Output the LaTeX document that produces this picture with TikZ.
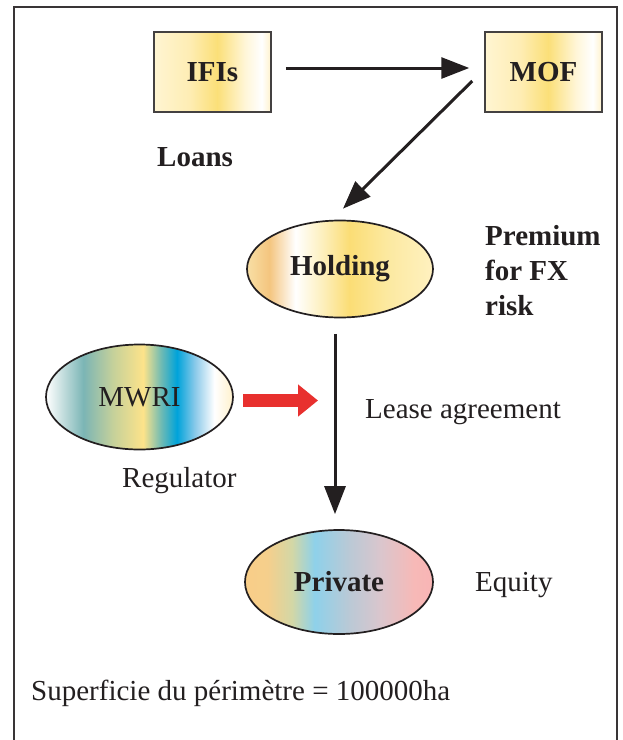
\documentclass[tikz,border=0pt]{standalone}
\usepackage{fontspec}
\setmainfont{Liberation Serif}
\usetikzlibrary{arrows.meta,shapes.geometric}

\definecolor{ink}{HTML}{231F20}
\definecolor{redarr}{HTML}{E8302E}

% gold boxes
\definecolor{bxA}{HTML}{FFF5D2}
\definecolor{bxB}{HTML}{FEEDB4}
\definecolor{bxC}{HTML}{FBDF78}
\definecolor{bxD}{HTML}{FFF6D8}
\definecolor{bxE}{HTML}{FFFFFF}
\definecolor{bxF}{HTML}{FFF2CC}
\pgfdeclarehorizontalshading{boxgold}{100bp}{color(0bp)=(bxA); color(25bp)=(bxA); color(40bp)=(bxB); color(52bp)=(bxC); color(64bp)=(bxD); color(71bp)=(bxE); color(75bp)=(bxF); color(100bp)=(bxF)}

% holding ellipse
\definecolor{hoA}{HTML}{F8DFA5}
\definecolor{hoB}{HTML}{F4C57F}
\definecolor{hoC}{HTML}{FFFFFF}
\definecolor{hoD}{HTML}{FDF0C0}
\definecolor{hoE}{HTML}{FBDD75}
\definecolor{hoF}{HTML}{FCE9A0}
\definecolor{hoG}{HTML}{FFF1C0}
\pgfdeclarehorizontalshading{holdshade}{100bp}{color(0bp)=(hoA); color(25bp)=(hoA); color(31bp)=(hoB); color(38bp)=(hoC); color(45bp)=(hoD); color(52.5bp)=(hoE); color(62.5bp)=(hoF); color(75bp)=(hoG); color(100bp)=(hoG)}

% regulator ellipse
\definecolor{mwA}{HTML}{FFFFFF}
\definecolor{mwB}{HTML}{7BB5B5}
\definecolor{mwC}{HTML}{C6D19A}
\definecolor{mwD}{HTML}{FDE38A}
\definecolor{mwE}{HTML}{69B9B5}
\definecolor{mwF}{HTML}{00A3DA}
\definecolor{mwG}{HTML}{8FCBEA}
\definecolor{mwH}{HTML}{FFFFFF}
\definecolor{mwI}{HTML}{FFF1CC}
\pgfdeclarehorizontalshading{mwrishade}{100bp}{color(0bp)=(mwA); color(25bp)=(mwA); color(35bp)=(mwB); color(43bp)=(mwC); color(51bp)=(mwD); color(56bp)=(mwE); color(60bp)=(mwF); color(65bp)=(mwG); color(70bp)=(mwH); color(75bp)=(mwI); color(100bp)=(mwI)}

% private ellipse
\definecolor{prA}{HTML}{F9CE88}
\definecolor{prB}{HTML}{F5CF8C}
\definecolor{prC}{HTML}{D3D7A6}
\definecolor{prD}{HTML}{8ED1EA}
\definecolor{prE}{HTML}{B9C9D6}
\definecolor{prF}{HTML}{DAC6CD}
\definecolor{prG}{HTML}{F7B9B7}
\definecolor{prH}{HTML}{F8B5B5}
\pgfdeclarehorizontalshading{privshade}{100bp}{color(0bp)=(prA); color(25bp)=(prA); color(31bp)=(prB); color(37.5bp)=(prC); color(43.5bp)=(prD); color(52.5bp)=(prE); color(61bp)=(prF); color(70bp)=(prG); color(75bp)=(prH); color(100bp)=(prH)}

\newcommand\diagfont{\fontsize{29}{35}\selectfont}

\begin{document}
\begin{tikzpicture}[x=1pt,y=-1pt,
  every node/.style={text=ink, inner sep=0pt},
  goldbox/.style={draw=ink!85, line width=1.5pt, minimum width=117pt,
    minimum height=80pt, shading=boxgold, font=\diagfont\bfseries},
  blob/.style={ellipse, draw=ink, line width=1.7pt, font=\diagfont},
  label/.style={anchor=base west, font=\diagfont},
  arr/.style={draw=ink, line width=3pt, -{Triangle[length=28pt,width=21pt]}}]
\useasboundingbox (0,0) rectangle (623,740);

% outer frame (runs off the bottom edge)
\draw[line width=2pt, draw=ink!90] (13.5,760) -- (13.5,6.5) -- (616.5,6.5) -- (616.5,760);

% boxes and ellipses
\node[goldbox] (ifis) at (212.5,72) {IFIs};
\node[goldbox] (mof) at (543.5,72) {MOF};
\node[blob, minimum width=186pt, minimum height=97pt, shading=holdshade,
  font=\diagfont\bfseries] (holding) at (340,269) {\raisebox{-2pt}{Holding}};
\node[blob, minimum width=187pt, minimum height=105pt, shading=mwrishade] (mwri) at (139.5,397) {MWRI};
\node[blob, minimum width=188pt, minimum height=104pt, shading=privshade,
  font=\diagfont\bfseries] (private) at (339,582) {Private};

% labels
\node[label, font=\diagfont\bfseries] (loans) at (157,166) {Loans};
\node[label, font=\diagfont\bfseries] (premium) at (485,245) {Premium};
\node[label, font=\diagfont\bfseries] (forfx) at (485,280) {for FX};
\node[label, font=\diagfont\bfseries] (risk) at (485,315) {risk};
\node[label] (lease) at (365,418.5) {Lease agreement};
\node[label] (regulator) at (122,487) {Regulator};
\node[label] (equity) at (475,591) {Equity};
\node[label] (area) at (31,700) {Superficie du périmètre = 100000ha};

% connectors
\draw[arr] ([shift={(14,-4)}]ifis.east) -- ([shift={(-15,-4)}]mof.west);
\draw[arr] ([shift={(-12,9)}]mof.west) -- ([shift={(3,-11)}]holding.north);
\draw[arr] ([shift={(-5,15.5)}]holding.south) -- ([shift={(-4,-15)}]private.north);

% regulator arrow
\coordinate (leasept) at (318,400.5);
\draw[draw=redarr, line width=13pt, -{Triangle[length=20pt,width=31pt]}]
  ([shift={(9,3.5)}]mwri.east) -- (leasept);
\end{tikzpicture}
\end{document}
